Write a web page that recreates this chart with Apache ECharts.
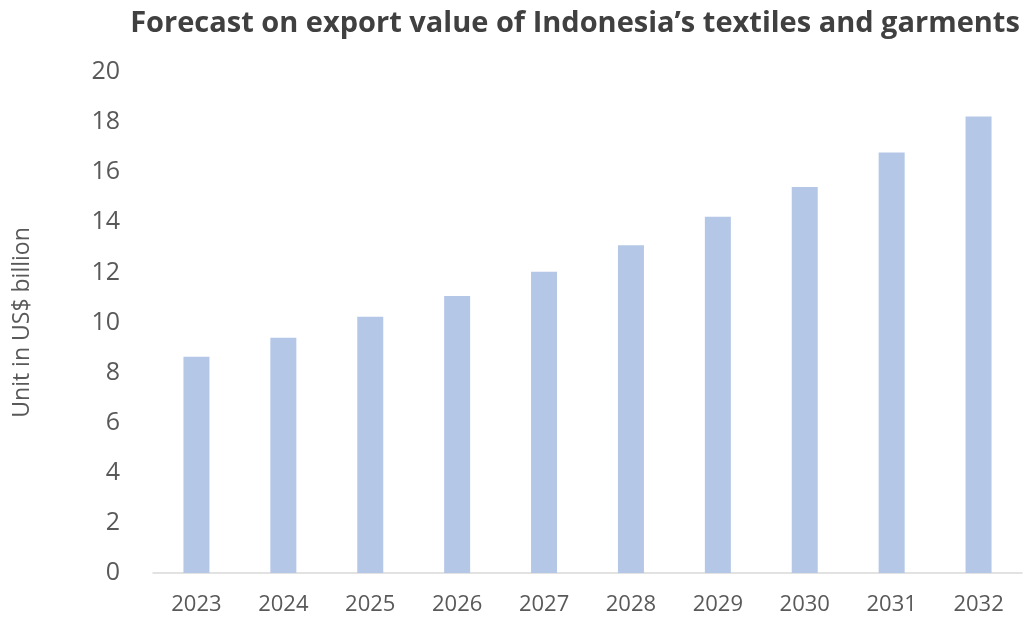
<!DOCTYPE html>
<html>
<head>
<meta charset="utf-8">
<script src="https://cdn.jsdelivr.net/npm/echarts@6/dist/echarts.min.js"></script>
<style>
html,body{margin:0;padding:0;background:#fff;}
#chart{width:1025px;height:625px;}
</style>
</head>
<body>
<div id="chart"></div>
<script>
const titleText = "Forecast on export value of Indonesia\u2019s textiles and garments";
const yAxisName = "Unit in US$ billion";
const years = ["2023","2024","2025","2026","2027","2028","2029","2030","2031","2032"];
const exportValues = [8.63, 9.39, 10.23, 11.06, 12.03, 13.08, 14.22, 15.41, 16.79, 18.22];
const yMin = 0, yMax = 20, yStep = 2;

const chart = echarts.init(document.getElementById('chart'));
chart.setOption({
  backgroundColor: '#ffffff',
  animation: false,
  title: {
    text: titleText,
    left: 570,
    textAlign: 'center',
    top: 4,
    textStyle: {
      fontFamily: 'Open Sans',
      fontWeight: 'bold',
      fontSize: 29,
      color: '#404040'
    }
  },
  grid: { left: 153, right: 3, top: 72, bottom: 52, containLabel: false },
  xAxis: {
    type: 'category',
    data: years,
    axisLine: { show: true, lineStyle: { color: '#d9d9d9', width: 1.5 } },
    axisTick: { show: false },
    axisLabel: {
      color: '#595959',
      fontFamily: 'Open Sans',
      fontSize: 22,
      margin: 21
    }
  },
  yAxis: {
    type: 'value',
    min: yMin,
    max: yMax,
    interval: yStep,
    name: yAxisName,
    nameLocation: 'middle',
    nameGap: 119,
    nameRotate: 90,
    nameTextStyle: {
      color: '#595959',
      fontFamily: 'Open Sans',
      fontSize: 23
    },
    axisLine: { show: false },
    axisTick: { show: false },
    splitLine: { show: false },
    axisLabel: {
      color: '#595959',
      fontFamily: 'Open Sans',
      fontSize: 25,
      margin: 33
    }
  },
  series: [{
    type: 'bar',
    data: exportValues,
    barWidth: 26,
    itemStyle: { color: '#b4c7e7' }
  }]
});
</script>
</body>
</html>
